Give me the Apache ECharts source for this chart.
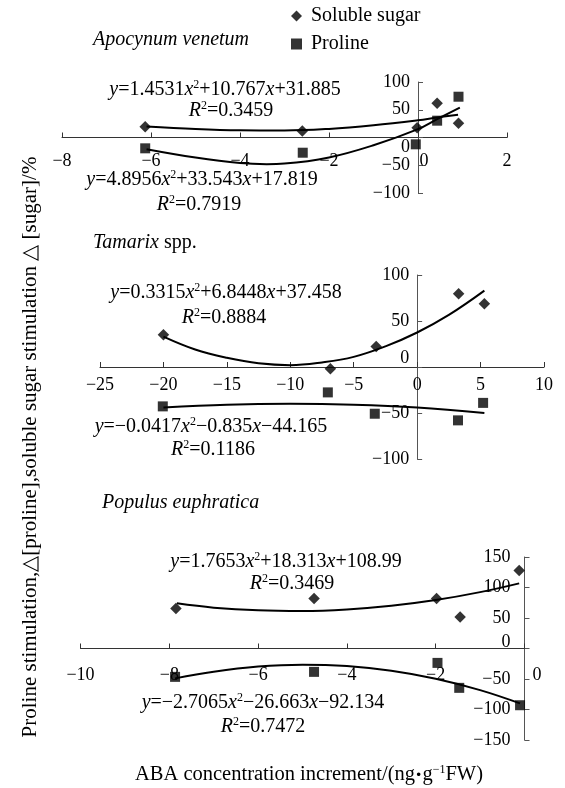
<!DOCTYPE html>
<html>
<head>
<meta charset="utf-8">
<script src="https://cdn.jsdelivr.net/npm/echarts@6/dist/echarts.min.js"></script>
<style>html,body{margin:0;padding:0;background:#fff;}#c{width:565px;height:788px;}</style>
</head>
<body>
<div id="c"></div>
<script>
// ---- Data ----
const seriesNames = ['Soluble sugar', 'Proline'];
const panelTitles = ['Apocynum venetum', 'Tamarix', 'Populus euphratica'];

// Apocynum venetum
const sugarA = [[-6.13, 19.5], [-2.6, 11.7], [-0.02, 17.7], [0.43, 61.6], [0.91, 25.6]];
const prolineA = [[-6.13, -19.5], [-2.59, -27.4], [-0.05, -12.3], [0.43, 30.3], [0.91, 73.5]];
const sugarFitA = [[-6.1, 20], [-5, 15.5], [-4, 13], [-3, 12.5], [-2, 15.5], [-1, 22], [0, 31], [0.43, 36], [0.9, 41]];
const prolineFitA = [[-6.1, -21], [-5, -36], [-4, -46], [-3.4, -48], [-3, -47], [-2, -36], [-1, -14], [0, 15], [0.43, 33], [0.94, 54]];

// Tamarix spp.
const sugarB = [[-20, 35], [-6.84, -2], [-3.23, 22.4], [3.27, 79.7], [5.3, 68.8]];
const prolineB = [[-20.05, -42.8], [-7.04, -27.6], [-3.34, -50.8], [3.22, -58], [5.2, -39]];
const sugarFitB = [[-20, 33], [-17.5, 19], [-15, 10], [-12.5, 4], [-10, 2], [-7.5, 5], [-5, 11], [-2.5, 22.4], [0, 37.5], [2.5, 56.6], [5.3, 83]];
const prolineFitB = [[-20, -44], [-15, -41], [-10, -40], [-5, -41], [0, -44], [5.3, -50]];

// Populus euphratica
const sugarC = [[-7.85, 65.6], [-4.74, 82], [-1.98, 82], [-1.45, 51.8], [-0.12, 128]];
const prolineC = [[-7.87, -46.5], [-4.74, -38.3], [-1.96, -23.6], [-1.47, -64.5], [-0.1, -93]];
const sugarFitC = [[-7.83, 74], [-7, 67], [-6, 62.6], [-5, 61.5], [-4, 64], [-3, 70], [-2, 79.4], [-1, 92.4], [-0.12, 106.8]];
const prolineFitC = [[-7.87, -49], [-7, -38], [-6, -29.6], [-5, -26.5], [-4, -28.8], [-3, -36.5], [-2, -49.6], [-1, -68.2], [-0.1, -90]];

// Axis ranges [min, max, interval]
const xRangeA = [-8, 2, 2], yRangeA = [-100, 100, 50];
const xRangeB = [-25, 10, 5], yRangeB = [-100, 100, 50];
const xRangeC = [-10, 0, 2], yRangeC = [-150, 150, 50];

// Fit equations (as printed)
const eqA1 = '{i|y}=1.4531{i|x}{s|2}+10.767{i|x}+31.885', rA1 = '{i|R}{s|2}=0.3459';
const eqA2 = '{i|y}=4.8956{i|x}{s|2}+33.543{i|x}+17.819', rA2 = '{i|R}{s|2}=0.7919';
const eqB1 = '{i|y}=0.3315{i|x}{s|2}+6.8448{i|x}+37.458', rB1 = '{i|R}{s|2}=0.8884';
const eqB2 = '{i|y}=−0.0417{i|x}{s|2}−0.835{i|x}−44.165', rB2 = '{i|R}{s|2}=0.1186';
const eqC1 = '{i|y}=1.7653{i|x}{s|2}+18.313{i|x}+108.99', rC1 = '{i|R}{s|2}=0.3469';
const eqC2 = '{i|y}=−2.7065{i|x}{s|2}−26.663{i|x}−92.134', rC2 = '{i|R}{s|2}=0.7472';

const xTitle = 'ABA concentration increment/(ng{b|·}g{s|−1}FW)';
const yTitle = 'Proline stimulation,△[proline],soluble sugar stimulation △ [sugar]/%';

// ---- Layout ----
const FF = '"Liberation Serif","Times New Roman",serif';
const grids = [
  {left: 62, top: 82, width: 445, height: 111},
  {left: 100, top: 275, width: 444, height: 184},
  {left: 80.5, top: 557, width: 444, height: 183}
];
const chart = echarts.init(document.getElementById('c'), null, {renderer: 'canvas'});

function fmt(zeroTag) {
  return function (v) {
    if (v === 0 && zeroTag) return '{z|0}';
    return String(v).replace('-', '−');
  };
}
// x axis drawn at y = 0 of the panel's y scale
function xAxisDef(idx, r, yr, margin, zeroPad) {
  const off = -grids[idx].height * (0 - yr[0]) / (yr[1] - yr[0]);
  return {
    type: 'value', gridIndex: idx, min: r[0], max: r[1], interval: r[2],
    position: 'bottom', offset: off,
    splitLine: {show: false},
    axisLine: {onZero: false, lineStyle: {color: '#333', width: 1}},
    axisTick: {inside: true, length: 5, lineStyle: {color: '#333'}},
    axisLabel: {
      margin: margin, color: '#000', fontSize: 18, fontFamily: FF,
      formatter: fmt(zeroPad ? true : false),
      rich: {z: {fontSize: 18, fontFamily: FF, color: '#000', padding: [0, 0, 0, zeroPad || 0]}}
    }
  };
}
// y axis drawn at x = 0 of the panel's x scale
function yAxisDef(idx, r, xr, margin, zeroPadding) {
  const off = -grids[idx].width * (0 - xr[0]) / (xr[1] - xr[0]);
  return {
    type: 'value', gridIndex: idx, min: r[0], max: r[1], interval: r[2],
    position: 'left', offset: off,
    splitLine: {show: false},
    axisLine: {onZero: false, lineStyle: {color: '#555', width: 1}},
    axisTick: {inside: true, length: 5, lineStyle: {color: '#555'}},
    axisLabel: {
      margin: margin, color: '#000', fontSize: 18, fontFamily: FF,
      formatter: fmt(true),
      rich: {z: {fontSize: 18, fontFamily: FF, color: '#000', padding: zeroPadding}}
    }
  };
}
function scatter(name, idx, data, sym, size) {
  return {
    type: 'scatter', name: name, xAxisIndex: idx, yAxisIndex: idx, data: data,
    symbol: sym, symbolSize: size, itemStyle: {color: '#000'}, z: 5, silent: true
  };
}
function fit(idx, data) {
  return {
    type: 'line', name: 'fit', xAxisIndex: idx, yAxisIndex: idx, data: data,
    smooth: 0.4, symbol: 'none', lineStyle: {color: '#000', width: 2}, z: 3, silent: true
  };
}
const richEq = {
  i: {fontStyle: 'italic', fontSize: 20, fontFamily: FF, fill: '#000', lineHeight: 22},
  s: {fontSize: 12, fontFamily: FF, fill: '#000', lineHeight: 12, verticalAlign: 'top'},
  b: {fontSize: 22, fontWeight: 'bold', fontFamily: FF, fill: '#000', lineHeight: 22}
};
function txt(text, x, y, opts) {
  opts = opts || {};
  return {
    type: 'text', x: x, y: y, rotation: opts.rot || 0, silent: true,
    style: {
      text: text, fill: '#000', fontSize: opts.size || 20, fontFamily: FF,
      fontStyle: opts.italic ? 'italic' : 'normal', lineHeight: 22,
      textAlign: opts.align || 'center', textVerticalAlign: 'middle', verticalAlign: 'middle',
      rich: richEq
    }
  };
}

const option = {
  animation: false,
  backgroundColor: '#fff',
  legend: {
    orient: 'vertical', left: 286, top: 1, itemWidth: 11, itemHeight: 11, itemGap: 8,
    selectedMode: false,
    data: [{name: seriesNames[0], icon: 'diamond'}, {name: seriesNames[1], icon: 'rect'}],
    textStyle: {fontSize: 20, fontFamily: FF, color: '#000', lineHeight: 20, padding: [0, 0, 0, 4]}
  },
  grid: grids,
  xAxis: [
    xAxisDef(0, xRangeA, yRangeA, 15, 12),
    xAxisDef(1, xRangeB, yRangeB, 9, 0),
    xAxisDef(2, xRangeC, yRangeC, 18, 25)
  ],
  yAxis: [
    yAxisDef(0, yRangeA, xRangeA, 8, [20, 0, 0, 0]),
    yAxisDef(1, yRangeB, xRangeB, 8, [0, 0, 18, 0]),
    yAxisDef(2, yRangeC, xRangeC, 14, [0, 0, 13, 0])
  ],
  series: [
    fit(0, sugarFitA), fit(0, prolineFitA),
    scatter(seriesNames[0], 0, sugarA, 'diamond', 11.5), scatter(seriesNames[1], 0, prolineA, 'rect', 10),
    fit(1, sugarFitB), fit(1, prolineFitB),
    scatter(seriesNames[0], 1, sugarB, 'diamond', 11.5), scatter(seriesNames[1], 1, prolineB, 'rect', 10),
    fit(2, sugarFitC), fit(2, prolineFitC),
    scatter(seriesNames[0], 2, sugarC, 'diamond', 11.5), scatter(seriesNames[1], 2, prolineC, 'rect', 10)
  ],
  graphic: [
    txt(panelTitles[0], 93, 40, {italic: true, align: 'left'}),
    txt('{i|' + panelTitles[1] + '} spp.', 93, 243, {align: 'left'}),
    txt(panelTitles[2], 102, 503, {italic: true, align: 'left'}),
    txt(eqA1, 225, 90), txt(rA1, 231, 111),
    txt(eqA2, 202, 180), txt(rA2, 199, 205),
    txt(eqB1, 226, 293), txt(rB1, 224, 318),
    txt(eqB2, 211, 427), txt(rB2, 213, 450),
    txt(eqC1, 286, 562), txt(rC1, 292, 584),
    txt(eqC2, 263, 703), txt(rC2, 263, 727),
    txt(xTitle, 309, 775, {size: 20.5}),
    txt(yTitle, 30, 447, {rot: Math.PI / 2, size: 21})
  ]
};
chart.setOption(option);
</script>
</body>
</html>
